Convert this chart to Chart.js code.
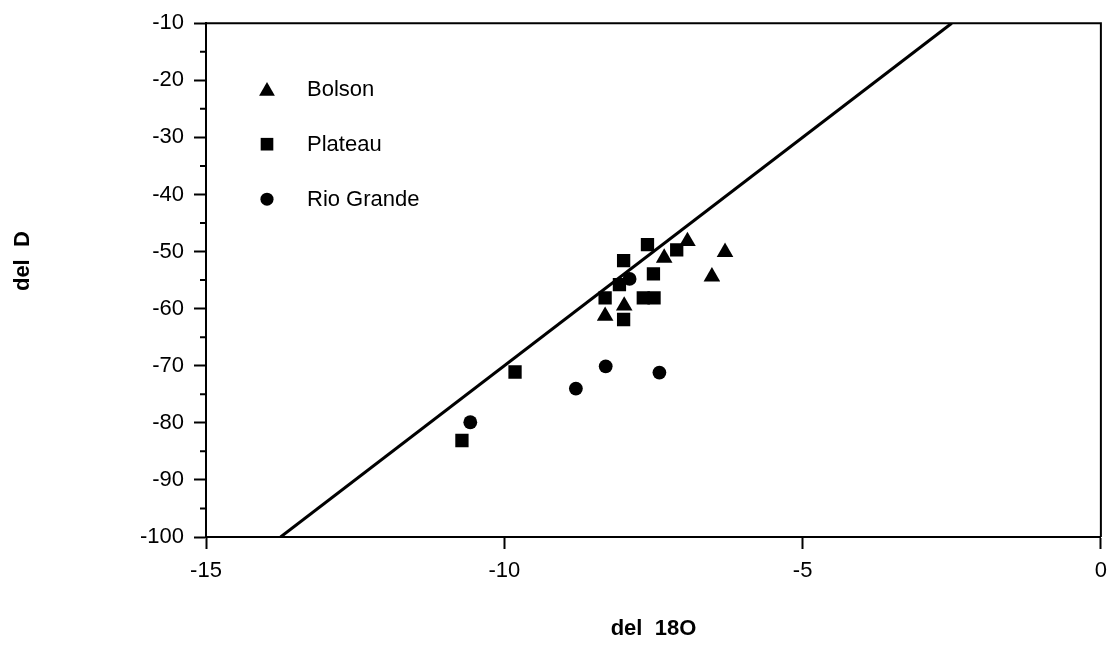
<!DOCTYPE html>
<html>
<head>
<meta charset="utf-8">
<title>del D vs del 18O</title>
<script src="https://cdn.jsdelivr.net/npm/chart.js@4.4.1/dist/chart.umd.min.js"></script>
<style>
  html, body { margin: 0; padding: 0; background: #fff; }
  #wrap { position: relative; width: 1116px; height: 648px; }
</style>
</head>
<body>
<div id="wrap"><canvas id="chart"></canvas></div>
<script>
// Valores (del 18O, del D)
const bolsonX = [-6.93, -6.30, -7.32, -6.52, -7.99, -8.31]
const bolsonY = [-48.2, -50.1, -51.1, -54.4, -59.5, -61.3]

const plateauX = [-7.60, -8.00, -7.11, -7.50, -8.07, -8.31, -7.67, -7.49, -8.00, -9.82, -10.71]
const plateauY = [-48.8, -51.6, -49.7, -53.9, -55.8, -58.1, -58.1, -58.1, -61.9, -71.1, -83.1]

const rioGrandeX = [-7.90, -8.30, -7.40, -8.80, -10.57]
const rioGrandeY = [-54.8, -70.1, -71.2, -74.0, -79.9]

// Recta meteórica (extremos dentro del marco)
const lineX = [-13.75, -2.5]
const lineY = [-100, -10]

const seriesNames = ['Bolson', 'Plateau', 'Rio Grande']
const seriesStyles = ['triangle', 'rect', 'circle']
const seriesRadius = [9.6, 9.4, 6.9]

const FONT = "'Liberation Sans', Arial, Helvetica, sans-serif"
const yTitle = 'del  D'

function pts(xs, ys) {
  return xs.map((x, i) => ({ x, y: ys[i] }))
}

// Marco superior/derecho, ticks menores del eje Y, título Y y leyenda dentro del área
const framePlugin = {
  id: 'frame',
  afterDraw(chart) {
    const { ctx, chartArea: a, scales } = chart
    ctx.save()
    ctx.strokeStyle = '#000'
    ctx.lineWidth = 2
    ctx.beginPath()
    ctx.moveTo(a.left, a.top)
    ctx.lineTo(a.right, a.top)
    ctx.lineTo(a.right, a.bottom)
    ctx.stroke()

    // ticks menores (cada 5, cortos)
    const y = scales.y
    ctx.beginPath()
    y.ticks.forEach(t => {
      if (t.value % 10 !== 0) {
        const py = y.getPixelForValue(t.value)
        ctx.moveTo(a.left - 6, py)
        ctx.lineTo(a.left, py)
      }
    })
    ctx.stroke()

    // título del eje Y (algo por encima del centro, como en el original)
    ctx.fillStyle = '#000'
    ctx.save()
    ctx.translate(a.left - 183, (a.top + a.bottom) / 2 - 19)
    ctx.rotate(-Math.PI / 2)
    ctx.font = 'bold 22px ' + FONT
    ctx.textAlign = 'center'
    ctx.textBaseline = 'middle'
    ctx.fillText(yTitle, 0, 0)
    ctx.restore()

    // leyenda
    const lx = a.left + 61
    const ly = a.top + 66
    ctx.font = '22px ' + FONT
    ctx.textBaseline = 'middle'
    ctx.textAlign = 'left'
    seriesNames.forEach((name, i) => {
      const cy = ly + i * 55
      const style = seriesStyles[i]
      const r = seriesRadius[i] * 0.95
      const py = style === 'triangle' ? cy + 2 : cy
      if (Chart.helpers && Chart.helpers.drawPoint) {
        Chart.helpers.drawPoint(ctx, { pointStyle: style, radius: r, rotation: 0, borderWidth: 0 }, lx, py)
      }
      ctx.fillText(name, lx + 40, cy + 1)
    })
    ctx.restore()
  }
}

const tickFont = { family: FONT, size: 22 }
const titleFont = { family: FONT, size: 22, weight: 'bold' }

new Chart(document.getElementById('chart'), {
  type: 'scatter',
  data: {
    datasets: [
      {
        label: 'Bolson',
        data: pts(bolsonX, bolsonY),
        pointStyle: 'triangle',
        pointRadius: seriesRadius[0],
        pointHoverRadius: seriesRadius[0],
        backgroundColor: '#000',
        borderColor: '#000',
        borderWidth: 0,
      },
      {
        label: 'Plateau',
        data: pts(plateauX, plateauY),
        pointStyle: 'rect',
        pointRadius: seriesRadius[1],
        pointHoverRadius: seriesRadius[1],
        backgroundColor: '#000',
        borderColor: '#000',
        borderWidth: 0,
      },
      {
        label: 'Rio Grande',
        data: pts(rioGrandeX, rioGrandeY),
        pointStyle: 'circle',
        pointRadius: seriesRadius[2],
        pointHoverRadius: seriesRadius[2],
        backgroundColor: '#000',
        borderColor: '#000',
        borderWidth: 0,
      },
      {
        label: 'GMWL',
        data: pts(lineX, lineY),
        showLine: true,
        borderColor: '#000',
        borderWidth: 3,
        pointRadius: 0,
        pointHoverRadius: 0,
        fill: false,
      }
    ]
  },
  options: {
    responsive: true,
    maintainAspectRatio: false,
    animation: false,
    layout: { padding: { top: 17, right: 9, left: 0, bottom: 0 } },
    plugins: {
      legend: { display: false },
      tooltip: { enabled: false },
    },
    scales: {
      x: {
        type: 'linear',
        min: -15,
        max: 0,
        ticks: { stepSize: 5, color: '#000', font: tickFont, padding: 9, maxRotation: 0 },
        grid: { drawOnChartArea: false, drawTicks: true, tickLength: 12, tickWidth: 2, tickColor: '#000' },
        border: { display: true, color: '#000', width: 2 },
        title: { display: true, text: 'del  18O', color: '#000', font: titleFont, padding: { top: 0, bottom: 6 } },
        afterFit: s => { s.height = 111 },
      },
      y: {
        type: 'linear',
        min: -100,
        max: -10,
        ticks: {
          stepSize: 5,
          autoSkip: false,
          color: '#000',
          font: tickFont,
          padding: 10,
          callback: v => (v % 10 === 0 ? String(v) : ''),
        },
        grid: {
          drawOnChartArea: false,
          drawTicks: true,
          tickLength: 12,
          tickWidth: 2,
          tickColor: ctx => (ctx.tick && ctx.tick.value % 10 === 0 ? '#000' : 'rgba(0,0,0,0)'),
        },
        border: { display: true, color: '#000', width: 2 },
        title: { display: false },
        afterFit: s => { s.width = 206 },
      }
    }
  },
  plugins: [framePlugin]
})
</script>
</body>
</html>
